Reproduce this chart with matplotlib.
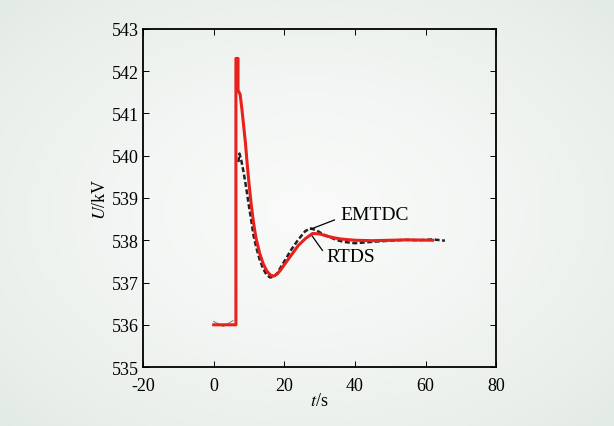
import numpy as np
import matplotlib
matplotlib.use("Agg")
import matplotlib.pyplot as plt

plt.rcParams['font.family'] = ['Liberation Serif', 'DejaVu Serif']
plt.rcParams['mathtext.fontset'] = 'stix'
plt.rcParams['axes.unicode_minus'] = False

# RTDS (red)
rtds_t = [0, 6.3, 6.3, 6.9, 6.9, 7.5, 8.0, 8.5, 9.0, 9.5, 10, 10.5, 11, 11.5, 12, 13, 14, 15,
          16, 17, 18, 19, 20, 22, 24, 26, 28, 30, 32, 34, 36, 40, 45, 50, 55, 62]
rtds_u = [536.0, 536.0, 542.3, 542.3, 541.55, 541.45, 541.1, 540.7, 540.3, 539.8, 539.35,
          538.95, 538.6, 538.3, 538.05, 537.7, 537.45, 537.28, 537.18, 537.15, 537.2, 537.3,
          537.42, 537.65, 537.88, 538.04, 538.16, 538.15, 538.1, 538.06, 538.03, 538.0,
          537.99, 538.0, 538.01, 538.0]

# EMTDC (black dashed)
pre_t = [0, 2.7, 5.5]
pre_u = [536.08, 535.96, 536.1]
emtdc_t = [7.0, 7.3, 7.8, 8.5, 9.2, 10, 10.6, 11.2, 12, 13, 14, 15, 16, 17, 18, 19, 20, 21,
           22, 24, 26, 27.5, 29, 31, 33, 35, 37, 40, 43, 46, 50, 54, 58, 62, 65.5]
emtdc_u = [539.85, 540.05, 539.9, 539.6, 539.25, 538.8, 538.5, 538.15, 537.85, 537.55,
           537.33, 537.18, 537.12, 537.14, 537.22, 537.36, 537.5, 537.64, 537.78, 538.02,
           538.22, 538.28, 538.24, 538.14, 538.07, 538.0, 537.96, 537.93, 537.95, 537.97,
           537.99, 538.01, 538.0, 538.02, 537.99]

fig = plt.figure(figsize=(6.14, 4.27), dpi=100)

# soft radial background
bg = fig.add_axes([0, 0, 1, 1], zorder=-1)
yy, xx = np.mgrid[-1:1:300j, -1:1:430j]
r = np.sqrt(xx**2 + yy**2)
c0 = np.array([0.975, 0.98, 0.975])
c1 = np.array([0.89, 0.92, 0.90])
w = np.clip(r / 1.414, 0, 1)[..., None] ** 1.5
img = c0 * (1 - w) + c1 * w
bg.imshow(img, aspect='auto', extent=[0, 1, 0, 1])
bg.axis('off')

ax = fig.add_axes([0.233, 0.138, 0.575, 0.792])
ax.patch.set_alpha(0)

ax.plot(pre_t, pre_u, color='#888888', lw=0.8)
ax.plot(emtdc_t, emtdc_u, color='#222222', lw=1.8, ls=(0, (2, 1)))
ax.plot(rtds_t, rtds_u, color='#e8211c', lw=2.2)

ax.plot([27.4, 34.2], [538.26, 538.48], color='black', lw=0.9)
ax.plot([27.9, 30.8], [538.1, 537.76], color='black', lw=0.9)
ax.text(35.9, 538.62, 'EMTDC', fontsize=14, va='center')
ax.text(32.0, 537.62, 'RTDS', fontsize=14, va='center')

ax.set_xlim(-20, 80)
ax.set_ylim(535, 543)
ax.set_xticks([-20, 0, 20, 40, 60, 80])
ax.set_yticks(range(535, 544))
ax.tick_params(direction='in', top=True, right=True, labelsize=13, length=4, width=0.7)
ax.tick_params(axis='y', pad=3)
ax.tick_params(axis='x', pad=7)
for s in ax.spines.values():
    s.set_linewidth(1.3)
ax.set_xlabel(r'$t$/s', fontsize=13, labelpad=-1)
ax.set_ylabel(r'$U$/kV', fontsize=13, labelpad=2)

fig.savefig('out.png', dpi=100)
